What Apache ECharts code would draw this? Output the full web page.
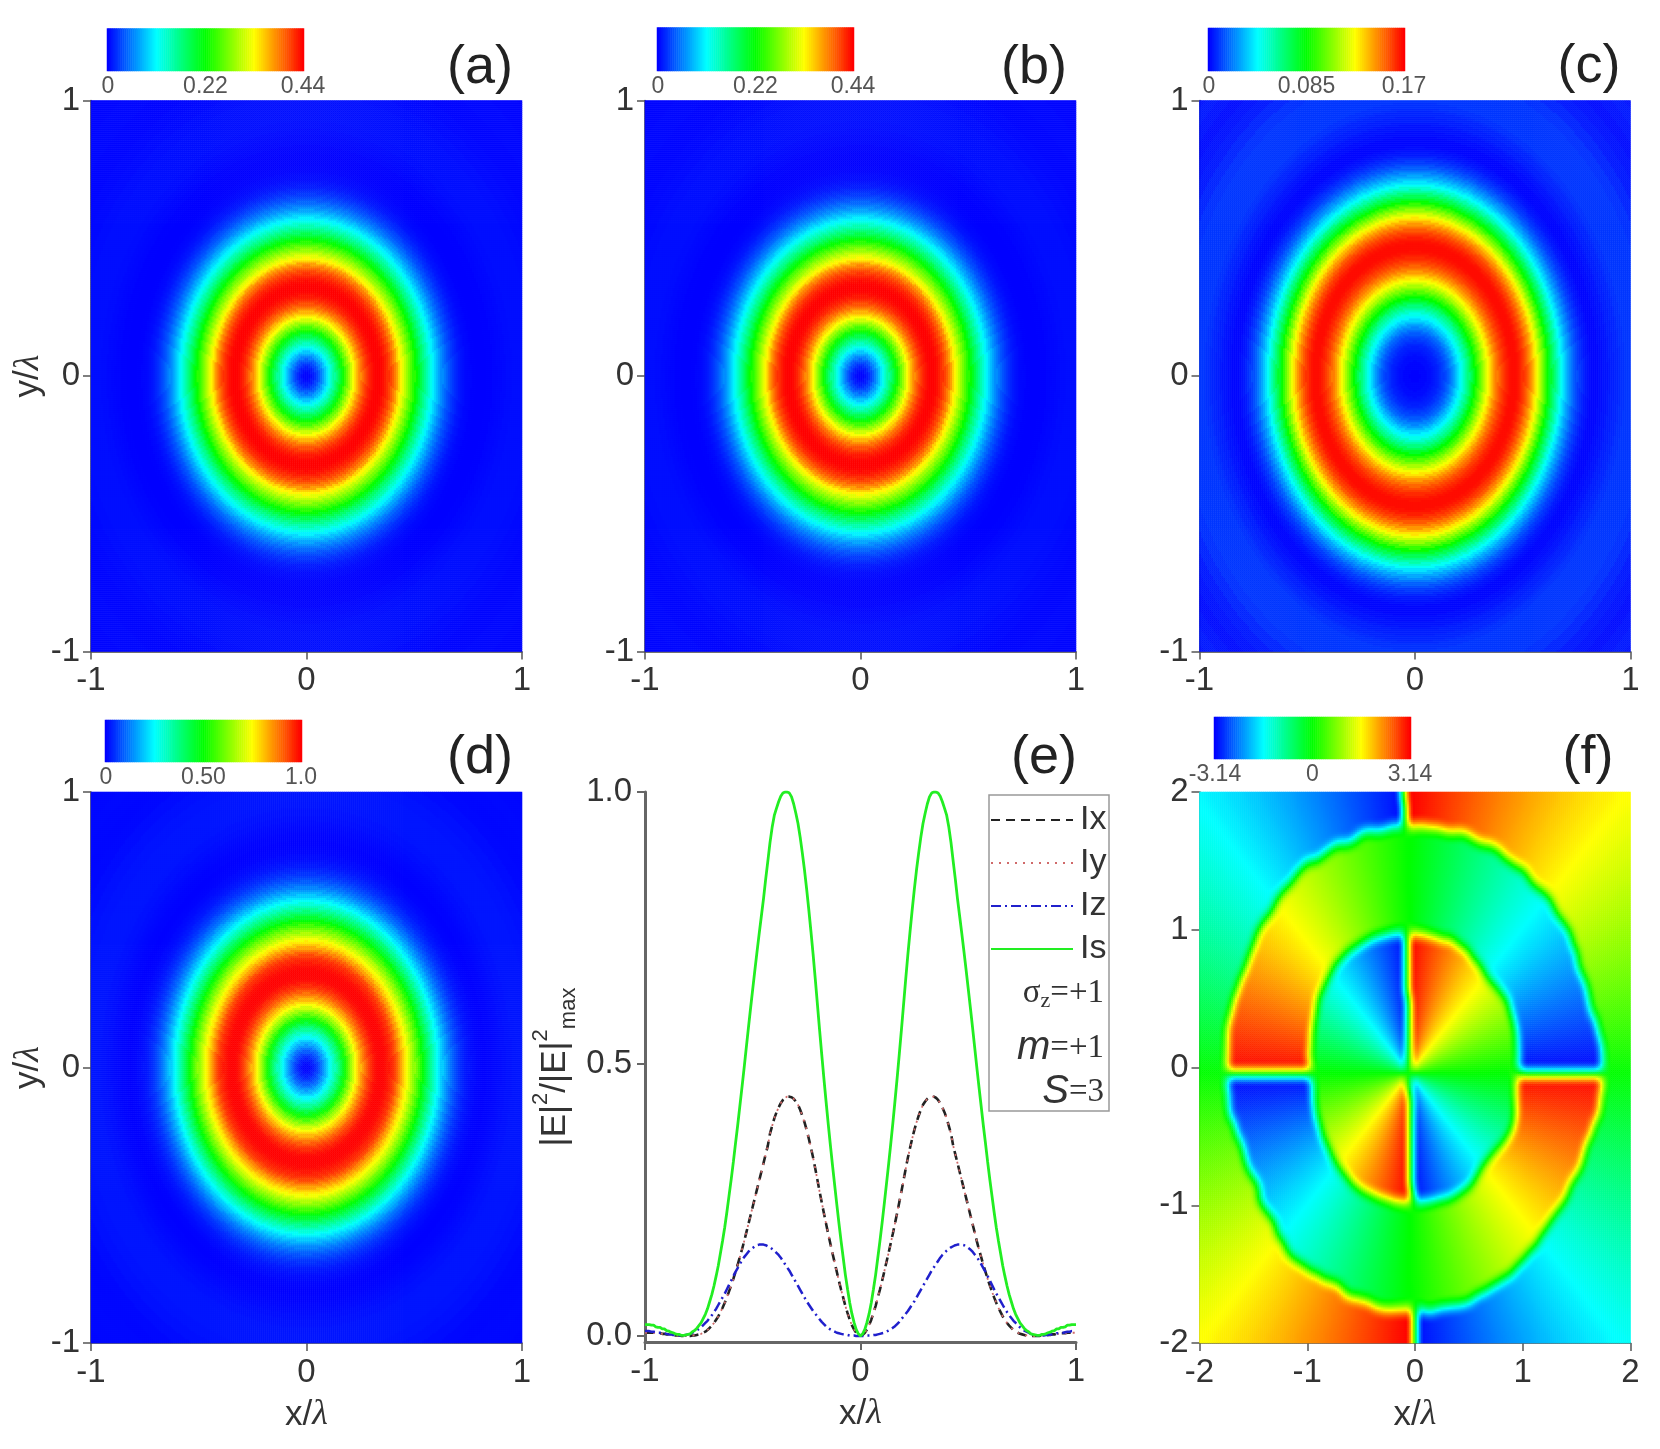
<!DOCTYPE html>
<html><head><meta charset="utf-8">
<style>html,body{margin:0;padding:0;background:#fff}#c{width:1660px;height:1449px;filter:blur(0.6px)}</style>
<script src="https://cdn.jsdelivr.net/npm/echarts@6/dist/echarts.min.js"></script>
</head><body><div id="c"></div>
<script>
// Radial profiles: index i is radius i/100 in units of lambda, 0..1
const ixProfile=[0,.002,.006,.012,.020,.030,.042,.055,.070,.085,.101,.118,.135,.152,.170,.188,.207,.226,.246,.266,.287,.308,.328,.346,.363,.379,.393,.405,.416,.425,.431,.436,.439,.440,.440,.438,.434,.428,.420,.411,.400,.386,.372,.350,.334,.318,.302,.286,.270,.254,.238,.222,.206,.190,.174,.159,.145,.131,.118,.105,.093,.082,.071,.061,.052,.044,.036,.030,.024,.019,.015,.011,.008,.006,.004,.003,.002,.001,.001,0,0,0,0,0,.001,.001,.001,.002,.002,.003,.003,.004,.004,.005,.005,.005,.006,.006,.006,.006,.006];
const iyProfile=[0,.002,.006,.012,.020,.030,.042,.055,.070,.085,.101,.118,.135,.152,.170,.188,.207,.226,.246,.266,.287,.308,.328,.346,.363,.379,.393,.405,.416,.425,.431,.436,.439,.440,.440,.438,.434,.428,.420,.411,.400,.386,.372,.350,.334,.318,.302,.286,.270,.254,.238,.222,.206,.190,.174,.159,.145,.131,.118,.105,.093,.082,.071,.061,.052,.044,.036,.030,.024,.019,.015,.011,.008,.006,.004,.003,.002,.001,.001,0,0,0,0,0,.001,.001,.001,.002,.002,.003,.003,.004,.004,.005,.005,.005,.006,.006,.006,.006,.006];
const izProfile=[0,0,0,.001,.001,.001,.002,.002,.003,.004,.005,.006,.008,.010,.012,.015,.018,.022,.026,.031,.036,.041,.046,.052,.058,.064,.071,.078,.085,.092,.099,.106,.113,.120,.126,.132,.138,.144,.149,.153,.157,.160,.163,.165,.167,.168,.168,.168,.167,.165,.162,.159,.155,.150,.145,.139,.132,.125,.118,.110,.102,.094,.086,.078,.071,.064,.057,.050,.044,.038,.033,.028,.024,.020,.016,.013,.010,.008,.006,.004,.003,.002,.001,.001,.001,.001,.002,.002,.003,.003,.004,.005,.005,.006,.006,.007,.008,.008,.009,.009,.009];
const isProfile=[0,.004,.012,.025,.041,.061,.086,.112,.143,.174,.207,.242,.278,.314,.352,.391,.432,.474,.518,.563,.610,.657,.702,.744,.784,.822,.857,.888,.917,.942,.961,.978,.991,.998,1,1,.998,.992,.982,.970,.957,.935,.907,.873,.840,.804,.772,.740,.707,.673,.638,.603,.567,.530,.493,.457,.422,.387,.354,.320,.288,.258,.228,.200,.175,.152,.129,.110,.092,.076,.063,.050,.040,.032,.024,.019,.014,.010,.008,.004,.003,.002,.001,.001,.003,.003,.004,.006,.007,.009,.010,.013,.013,.016,.016,.017,.020,.020,.021,.021,.021];
// Faint far field seen beyond radius 1 (radius 1.04, 1.08 ... 1.44)
const ixFar=[.006,.005,.004,.003,.002,.002,.003,.003,.002,.002,.001];
const iyFar=[.006,.005,.004,.003,.002,.002,.003,.003,.002,.002,.001];
const izFar=[.009,.009,.008,.006,.004,.003,.002,.003,.004,.003,.002];
const isFar=[.021,.019,.016,.012,.008,.007,.008,.009,.008,.007,.004];
// Panel (f): phase against polar angle 0..180 deg in 3 deg steps (repeats every 180 deg)
const phaseOuter=[0,.10,.21,.31,.42,.52,.63,.73,.84,.94,1.05,1.15,1.26,1.36,1.47,1.57,1.68,1.78,1.88,1.99,2.09,2.20,2.30,2.41,2.51,2.62,2.72,2.83,2.93,3.04,3.14,-3.04,-2.93,-2.83,-2.72,-2.62,-2.51,-2.41,-2.30,-2.20,-2.09,-1.99,-1.88,-1.78,-1.68,-1.57,-1.47,-1.36,-1.26,-1.15,-1.05,-.94,-.84,-.73,-.63,-.52,-.42,-.31,-.21,-.10,0];
const phaseRing=[-3.14,-3.04,-2.93,-2.83,-2.72,-2.62,-2.51,-2.41,-2.30,-2.20,-2.09,-1.99,-1.88,-1.78,-1.68,-1.57,-1.47,-1.36,-1.26,-1.15,-1.05,-.94,-.84,-.73,-.63,-.52,-.42,-.31,-.21,-.10,0,.10,.21,.31,.42,.52,.63,.73,.84,.94,1.05,1.15,1.26,1.36,1.47,1.57,1.68,1.78,1.88,1.99,2.09,2.20,2.30,2.41,2.51,2.62,2.72,2.83,2.93,3.04,3.14];
// Panel (f): ring boundaries against polar angle in 5 deg steps
const ringOuterRadius=[1.74,1.74,1.72,1.69,1.70,1.69,1.72,1.74,1.73,1.75,1.73,1.75,1.74,1.76,1.74,1.76,1.74,1.75,1.75,1.76,1.75,1.77,1.74,1.77,1.76,1.79,1.77,1.77,1.75,1.76,1.74,1.73,1.74,1.75,1.76,1.75,1.75,1.74,1.75,1.72,1.70,1.71,1.69,1.73,1.72,1.76,1.79,1.77,1.75,1.73,1.76,1.75,1.77,1.76,1.76,1.77,1.76,1.77,1.75,1.74,1.74,1.72,1.71,1.69,1.68,1.69,1.68,1.70,1.69,1.71,1.74,1.74];
const ringInnerRadius=[.96,.96,.97,.98,.98,.98,.99,.97,.95,.94,.95,.96,.98,.98,.99,.97,.97,.97,.97,.98,.99,1.0,1.01,1.02,1.03,1.04,1.05,1.05,1.04,1.03,1.03,1.01,1.0,.99,.98,.98,.97,.96,.96,.97,.98,.98,.99,.99,1.0,1.01,1.01,1.02,1.02,1.01,1.0,.99,.99,.98,.97,.98,.98,.99,1.0,1.0,1.0,.98,.95,.95,.96,.98,1.0,1.01,1.0,.97,.95,.95];
// Colour scales and labels
const rainbow=['#0000ff','#00ffff','#00ff00','#ffff00','#ff0000'];
const barALabels=['0','0.22','0.44'], barBLabels=['0','0.22','0.44'], barCLabels=['0','0.085','0.17'], barDLabels=['0','0.50','1.0'], barFLabels=['-3.14','0','3.14'];
const rangeA=[0,.44], rangeB=[0,.44], rangeC=[0,.17], rangeD=[0,1], rangeF=[-3.14,3.14];
const panelLetters=['(a)','(b)','(c)','(d)','(e)','(f)'];
const seriesNames=['Ix','Iy','Iz','Is'];

const NX=216, NY=276, SANS='"Liberation Sans",Arial,sans-serif', SERIF='"Liberation Serif",serif';
const TXT='#333';
const grids=[],xAxes=[],yAxes=[],series=[],visualMaps=[];
const range=n=>Array.from({length:n},(_,i)=>String(i));
const rich={l:{fontFamily:SERIF,fontStyle:'italic',fontSize:36,color:TXT}};

function valueAxis(isX,g,lo,hi,extra){
  return Object.assign({type:'value',gridIndex:g,min:lo,max:hi,interval:1,position:isX?'bottom':'left',
    axisLine:{show:true,onZero:false,lineStyle:{color:'#444',width:1.5}},
    axisTick:{show:true,length:8,inside:false,lineStyle:{color:'#555',width:1.5}},
    axisLabel:{fontFamily:SANS,fontSize:33,color:TXT,margin:isX?13:11,showMinLabel:true,showMaxLabel:true,hideOverlap:false},
    splitLine:{show:false}},extra||{});
}
function heatPanel(box,lo,hi,data,opts){
  const g=grids.length;
  grids.push(Object.assign({containLabel:false},box));
  const xc=xAxes.length,yc=yAxes.length;
  xAxes.push({type:'category',gridIndex:g,data:range(NX),show:false});
  yAxes.push({type:'category',gridIndex:g,data:range(NY),show:false});
  xAxes.push(valueAxis(true,g,lo,hi,opts.x));
  yAxes.push(valueAxis(false,g,lo,hi,opts.y));
  const si=series.length;
  series.push({type:'heatmap',xAxisIndex:xc,yAxisIndex:yc,data:data,progressive:0,animation:false,emphasis:{disabled:true}});
  return si;
}
function colorBar(box,rng,labels,heatIndex){
  const g=grids.length; grids.push(box);
  const xc=xAxes.length,yc=yAxes.length;
  xAxes.push({type:'category',gridIndex:g,data:range(101),axisLine:{show:false},axisTick:{show:false},
    axisLabel:{interval:(i)=>i===0||i===50||i===100,formatter:(v,i)=>labels[i/50]||'',fontFamily:SANS,fontSize:23,color:'#555',margin:4,showMinLabel:true,showMaxLabel:true}});
  yAxes.push({type:'category',gridIndex:g,data:['0'],show:false});
  const d=[];
  for(let i=0;i<=100;i++)d.push([i,0,rng[0]+(rng[1]-rng[0])*i/100]);
  const si=series.length;
  series.push({type:'heatmap',xAxisIndex:xc,yAxisIndex:yc,data:d,progressive:0,animation:false,emphasis:{disabled:true}});
  visualMaps.push({show:false,seriesIndex:[heatIndex,si],dimension:2,min:rng[0],max:rng[1],calculable:false,inRange:{color:rainbow}});
}
function radialData(profile,far,yStretch){
  const out=[];
  for(let j=0;j<NY;j++){
    const y=(-1+(j+.5)*2/NY)/yStretch;
    for(let i=0;i<NX;i++){
      const x=-1+(i+.5)*2/NX, r=Math.sqrt(x*x+y*y);
      let v;
      if(r<=1)v=profile[Math.round(r*100)];
      else v=far[Math.min(far.length-1,Math.max(0,Math.round((r-1)/.04)-1))];
      out.push([i,j,v]);
    }
  }
  return out;
}
function phaseData(){
  const raw=[];
  for(let j=0;j<NY;j++){
    const row=[]; const y0=-2+(j+.5)*4/NY;
    for(let i=0;i<NX;i++){
      const x0=-2+(i+.5)*4/NX;
      // the phase pattern is centred on the slit, slightly off the origin
      let deg=Math.atan2(y0+.04,x0+.05)*180/Math.PI; if(deg<0)deg+=360;
      let dr=Math.atan2(y0,x0)*180/Math.PI; if(dr<0)dr+=360;
      const r=Math.sqrt(x0*x0+y0*y0), k=Math.round(dr/5)%72, a=Math.round((deg%180)/3);
      row.push(r>ringInnerRadius[k]&&r<ringOuterRadius[k]?phaseRing[a]:phaseOuter[a]);
    }
    raw.push(row);
  }
  // the picture's edges are soft: average each cell with its neighbours, twice
  let cur=raw;
  for(let p=0;p<2;p++){
    const nxt=[];
    for(let j=0;j<NY;j++){
      const row=[];
      for(let i=0;i<NX;i++){
        let s=0,n=0;
        for(let b=-3;b<=3;b++)for(let a=-2;a<=2;a++){
          const jj=j+b,ii=i+a;
          if(jj>=0&&jj<NY&&ii>=0&&ii<NX){s+=cur[jj][ii];n++;}
        }
        row.push(s/n);
      }
      nxt.push(row);
    }
    cur=nxt;
  }
  const out=[];
  for(let j=0;j<NY;j++)for(let i=0;i<NX;i++)out.push([i,j,cur[j][i]]);
  return out;
}
const nameX={name:'x/{l|λ}',nameLocation:'middle',nameGap:54,nameTextStyle:{fontFamily:SANS,fontSize:35,color:TXT,rich}};
const nameY={name:'y/{l|λ}',nameLocation:'middle',nameGap:43,nameRotate:90,nameTextStyle:{fontFamily:SANS,fontSize:35,color:TXT,rich}};
const W=431,H=551;
const sA=heatPanel({left:91,top:100.5,width:W,height:H},-1,1,radialData(ixProfile,ixFar,.97),{y:nameY});
const sB=heatPanel({left:645,top:100.5,width:W,height:H},-1,1,radialData(iyProfile,iyFar,.97),{});
const sC=heatPanel({left:1199.5,top:100.5,width:W,height:H},-1,1,radialData(izProfile,izFar,1.02),{});
const sD=heatPanel({left:91,top:792,width:W,height:H},-1,1,radialData(isProfile,isFar,.99),{y:nameY,x:nameX});
const sF=heatPanel({left:1199.5,top:792,width:W,height:H},-2,2,phaseData(),{x:nameX});
colorBar({left:107,top:28.5,width:197,height:42.5},rangeA,barALabels,sA);
colorBar({left:657,top:27.5,width:197,height:43.5},rangeB,barBLabels,sB);
colorBar({left:1208,top:28,width:197,height:43},rangeC,barCLabels,sC);
colorBar({left:105,top:720,width:197,height:42},rangeD,barDLabels,sD);
colorBar({left:1214,top:717,width:197,height:42},rangeF,barFLabels,sF);

// Panel (e): both arms of each curve, from the same read profiles
const ge=grids.length;
grids.push({left:645,top:792,width:431,height:550});
const xe=xAxes.length,ye=yAxes.length;
xAxes.push(valueAxis(true,ge,-1,1,Object.assign({},nameX,{axisLine:{show:true,onZero:false,lineStyle:{color:'#666',width:3}},axisTick:{show:true,length:8,lineStyle:{color:'#666',width:2}}})));
yAxes.push({type:'value',gridIndex:ge,min:-.011,max:1,position:'left',splitLine:{show:false},
  axisLine:{show:true,onZero:false,lineStyle:{color:'#666',width:3}},
  axisTick:{show:true,length:8,customValues:[0,.5,1],lineStyle:{color:'#666',width:2}},
  axisLabel:{customValues:[0,.5,1],formatter:v=>v.toFixed(1),fontFamily:SANS,fontSize:33,color:TXT,margin:13},
  name:'|E|{s|2}/|E|{s|2}{b|max}',nameLocation:'middle',nameGap:65,nameRotate:90,
  nameTextStyle:{fontFamily:SANS,fontSize:35,color:TXT,lineHeight:50,rich:{s:{fontSize:22,verticalAlign:'top',color:TXT,fontFamily:SANS},b:{fontSize:22,verticalAlign:'bottom',color:TXT,fontFamily:SANS}}}});
function curve(p){
  const d=[];
  for(let i=100;i>0;i--)d.push([-i/100,p[i]]);
  for(let i=0;i<=100;i++)d.push([i/100,p[i]]);
  return d;
}
const lineDefs=[[ixProfile,{color:'#222',width:2.6,type:[9,6]}],[iyProfile,{color:'#d06a6a',width:1.8,type:[2,6]}],[izProfile,{color:'#2020cc',width:2.5,type:[10,4,2,4]}],[isProfile,{color:'#22ee22',width:2.8,type:'solid'}]];
lineDefs.forEach((l,i)=>series.push({name:seriesNames[i],type:'line',xAxisIndex:xe,yAxisIndex:ye,data:curve(l[0]),showSymbol:false,symbol:'none',smooth:false,animation:false,lineStyle:l[1],itemStyle:{color:l[1].color},z:3+i}));

const letterPos=[[480,68],[1034,68],[1589,67],[480,758],[1044,758],[1588,758]];
const graphic=panelLetters.map((t,i)=>({type:'text',x:letterPos[i][0],y:letterPos[i][1],style:{text:t,fontFamily:SANS,fontSize:54,fill:'#222',align:'center',verticalAlign:'middle'}}));
graphic.push({type:'rect',shape:{x:989,y:795,width:120,height:316},style:{fill:'rgba(255,255,255,0)',stroke:'#999',lineWidth:1.5},z:1});
const sr={a:{fontFamily:SERIF,fontSize:33,fill:'#333'},i:{fontFamily:SANS,fontStyle:'italic',fontSize:40,fill:'#333'},z:{fontFamily:SERIF,fontSize:22,fill:'#333',verticalAlign:'bottom',lineHeight:38}};
[['{a|σ}{z|z}{a|=+1}',993],['{i|m}{a|=+1}',1048],['{i|S}{a|=3}',1092]].forEach(t=>graphic.push({type:'text',x:1104,y:t[1],style:{text:t[0],rich:sr,align:'right',verticalAlign:'middle'},z:5}));

const chart=echarts.init(document.getElementById('c'),null,{renderer:'canvas',width:1660,height:1449});
chart.setOption({animation:false,backgroundColor:'#fff',grid:grids,xAxis:xAxes,yAxis:yAxes,visualMap:visualMaps,series:series,graphic:graphic,
  legend:{show:true,data:seriesNames,orient:'vertical',left:990,top:803,padding:0,itemGap:9,itemWidth:82,itemHeight:14,itemStyle:{opacity:0,borderWidth:0},textStyle:{fontFamily:SANS,fontSize:34,color:TXT,padding:[0,0,0,2]},selectedMode:false}});
</script></body></html>
